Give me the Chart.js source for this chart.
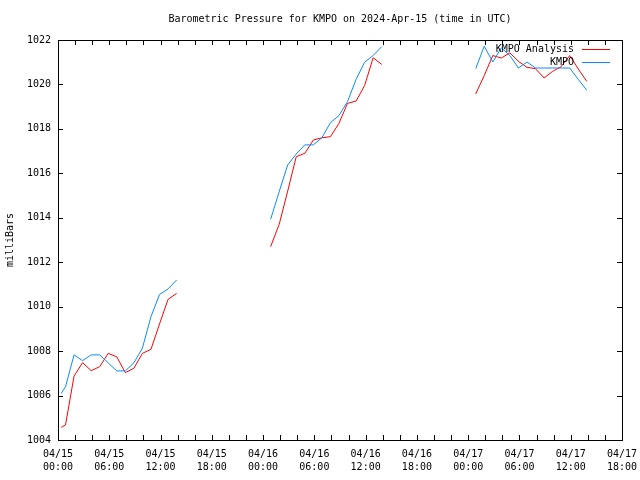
<!DOCTYPE html>
<html><head><meta charset="utf-8">
<script src="https://cdn.jsdelivr.net/npm/chart.js@4.4.1/dist/chart.umd.min.js"></script>
<style>html,body{margin:0;padding:0;background:#fff}#wrap{width:640px;height:480px}</style>
</head><body><div id="wrap"><canvas id="c"></canvas></div>
<script>
const titleText = 'Barometric Pressure for KMPO on 2024-Apr-15 (time in UTC)';
const yAxisLabel = 'milliBars';
const seriesNames = ['KMPO Analysis', 'KMPO'];
const seriesColors = ['#ff0000', '#0a8cff'];

// hours since 04/15 00:00 UTC (null entries break the line)
const hours = [
  0.38, 0.88, 1.88, 2.88, 3.88, 4.88, 5.88, 6.88, 7.88, 8.88, 9.88, 10.88, 11.88, 12.88, 13.88,
  19,
  24.88, 25.88, 26.88, 27.88, 28.88, 29.88, 30.88, 31.88, 32.88, 33.88, 34.88, 35.88, 36.88, 37.88,
  43,
  48.88, 49.88, 50.88, 51.88, 52.88, 53.88, 54.88, 55.88, 56.88, 57.88, 58.88, 59.88, 60.88, 61.88
];
const analysis = [
  1004.57, 1004.68, 1006.88, 1007.48, 1007.12, 1007.30, 1007.90, 1007.74, 1007.03, 1007.23, 1007.90, 1008.08, 1009.22, 1010.33, 1010.60,
  null,
  1012.70, 1013.70, 1015.20, 1016.75, 1016.90, 1017.50, 1017.60, 1017.65, 1018.25, 1019.15, 1019.25, 1019.95, 1021.20, 1020.90,
  null,
  1019.57, 1020.40, 1021.30, 1021.19, 1021.42, 1021.04, 1020.77, 1020.71, 1020.29, 1020.59, 1020.80, 1021.30, 1020.70, 1020.14
];
const observed = [
  1006.10, 1006.40, 1007.83, 1007.57, 1007.83, 1007.83, 1007.47, 1007.11, 1007.11, 1007.47, 1008.14, 1009.55, 1010.55, 1010.80, 1011.20,
  null,
  1013.93, 1015.17, 1016.38, 1016.87, 1017.28, 1017.28, 1017.60, 1018.28, 1018.60, 1019.23, 1020.23, 1021.00, 1021.30, 1021.70,
  null,
  1020.71, 1021.72, 1021.01, 1021.65, 1021.30, 1020.74, 1021.01, 1020.74, 1020.74, 1020.74, 1020.74, 1020.74, 1020.23, 1019.74
];
const tickDates = ['04/15','04/15','04/15','04/15','04/16','04/16','04/16','04/16','04/17','04/17','04/17','04/17'];
const tickTimes = ['00:00','06:00','12:00','18:00','00:00','06:00','12:00','18:00','00:00','06:00','12:00','18:00'];
const xMin = 0, xMax = 66, xMajorStep = 6, xMinorStep = 2;
const yMin = 1004, yMax = 1022, yStep = 2;

const FONT = 'DejaVu Sans Mono';
const toPts = vals => hours.map((h, i) => ({x: h, y: vals[i]}));

const framePlugin = {
  id: 'frame',
  afterDraw(chart) {
    const ctx = chart.ctx, a = chart.chartArea;
    const xs = chart.scales.x, ys = chart.scales.y;
    ctx.save();
    // title centred over the plot area
    ctx.fillStyle = '#000';
    ctx.font = '10px "' + FONT + '"';
    ctx.textAlign = 'center';
    ctx.textBaseline = 'middle';
    ctx.fillText(titleText, (a.left + a.right) / 2, 19);

    ctx.strokeStyle = '#000';
    ctx.lineWidth = 1;
    ctx.beginPath();
    const tl = 5;
    for (let v = xMin; v <= xMax; v += xMinorStep) {
      const px = Math.round(xs.getPixelForValue(v)) + 0.5;
      ctx.moveTo(px, a.bottom); ctx.lineTo(px, a.bottom - tl);
      ctx.moveTo(px, a.top); ctx.lineTo(px, a.top + tl);
    }
    for (let v = yMin; v <= yMax; v += yStep) {
      const py = Math.round(ys.getPixelForValue(v)) + 0.5;
      ctx.moveTo(a.left, py); ctx.lineTo(a.left + tl, py);
      ctx.moveTo(a.right, py); ctx.lineTo(a.right - tl, py);
    }
    ctx.stroke();
    ctx.strokeRect(Math.round(a.left) + 0.5, Math.round(a.top) + 0.5, Math.round(a.right - a.left), Math.round(a.bottom - a.top));
    // legend
    ctx.textAlign = 'right';
    const lx = a.right - 48, sx0 = a.right - 40, sx1 = a.right - 12;
    chart.data.datasets.forEach((ds, i) => {
      const yy = a.top + 9 + i * 13;
      ctx.fillStyle = '#000';
      ctx.fillText(ds.label, lx, yy);
      ctx.strokeStyle = ds.borderColor;
      ctx.beginPath();
      ctx.moveTo(sx0, yy + 0.5); ctx.lineTo(sx1, yy + 0.5);
      ctx.stroke();
    });
    ctx.restore();
  }
};

new Chart(document.getElementById('c'), {
  type: 'line',
  data: {
    datasets: [
      {label: seriesNames[0], data: toPts(analysis), borderColor: seriesColors[0], borderWidth: 1, pointRadius: 0, tension: 0, spanGaps: false, order: 1},
      {label: seriesNames[1], data: toPts(observed), borderColor: seriesColors[1], borderWidth: 1, pointRadius: 0, tension: 0, spanGaps: false, order: 0}
    ]
  },
  options: {
    responsive: true,
    maintainAspectRatio: false,
    animation: false,
    layout: {padding: {left: 0, right: 18, top: 40, bottom: 0}},
    plugins: {
      legend: {display: false},
      tooltip: {enabled: false},
      title: {display: false}
    },
    scales: {
      x: {
        type: 'linear', min: xMin, max: xMax,
        grid: {display: false, drawTicks: false},
        border: {display: false},
        ticks: {
          stepSize: xMajorStep, autoSkip: false, maxRotation: 0, color: '#000', padding: 8,
          font: {family: FONT, size: 10, lineHeight: 1.3},
          callback: v => { const i = Math.round(v / xMajorStep); return [tickDates[i], tickTimes[i]]; }
        },
        afterFit: s => { s.height = 40; s.paddingLeft = 0; s.paddingRight = 0; }
      },
      y: {
        min: yMin, max: yMax,
        grid: {display: false, drawTicks: false},
        border: {display: false},
        ticks: {stepSize: yStep, color: '#000', padding: 7, font: {family: FONT, size: 10}, callback: v => String(v)},
        title: {display: true, text: yAxisLabel, color: '#000', font: {family: FONT, size: 10}, padding: {top: 4, bottom: 0}},
        afterFit: s => { s.width = 58; s.paddingTop = 0; s.paddingBottom = 0; }
      }
    }
  },
  plugins: [framePlugin]
});
</script>
</body></html>
